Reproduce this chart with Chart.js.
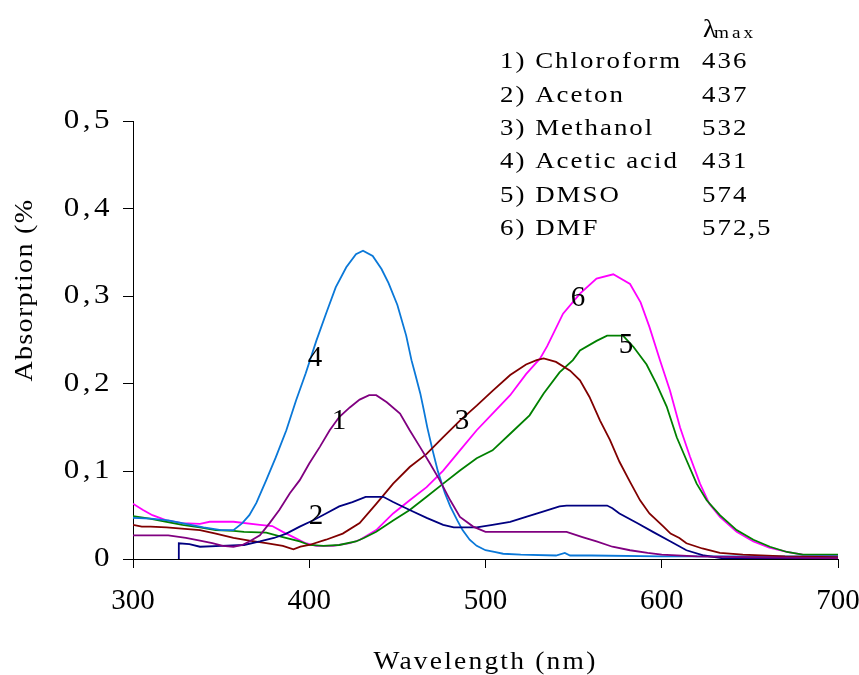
<!DOCTYPE html>
<html>
<head>
<meta charset="utf-8">
<script src="https://cdn.jsdelivr.net/npm/chart.js@4.4.1/dist/chart.umd.min.js"></script>
<style>
html,body{margin:0;padding:0;background:#fff;}
#wrap{width:859px;height:675px;position:relative;}
</style>
</head>
<body>
<div id="wrap"><canvas id="c" width="859" height="675"></canvas></div>
<script>
// ---- Data ----
// 1) Chloroform
const wl1 = [300,310,320,330,338,345,351,357,362,366,372,377.5,383,389,394.6,400,406,411.6,417,423,428.6,434,438,444,451.5,457,462.8,468.5,474,480,485.5,493,500,546,555,563,572,582,592,600,620,650,700];
const abs1 = [0.027,0.027,0.027,0.024,0.021,0.018,0.015,0.014,0.016,0.020,0.027,0.041,0.056,0.075,0.090,0.109,0.128,0.147,0.162,0.173,0.182,0.187,0.187,0.179,0.166,0.147,0.128,0.109,0.090,0.067,0.048,0.037,0.031,0.031,0.025,0.020,0.014,0.010,0.007,0.005,0.003,0.002,0.001];
// 2) Aceton
const wl2 = [326,326,332,338,350,363,372,380,387,394.6,402,409.5,417,424.5,432,442,447.6,457,466.6,476,482,495,504,514,523,532.6,542,546,569,572,576,586,595,605,614,624,634,650,700];
const abs2 = [0,0.018,0.017,0.014,0.015,0.016,0.020,0.024,0.029,0.037,0.044,0.052,0.060,0.065,0.071,0.071,0.065,0.056,0.047,0.039,0.036,0.036,0.039,0.0425,0.048,0.054,0.060,0.061,0.061,0.058,0.052,0.041,0.031,0.020,0.010,0.004,0.001,0,0];
// 3) Methanol
const wl3 = [300,305,310,319,338,347,357,366,375.6,385,391,395,400,409.5,419,428.6,438,447.6,457,466.6,476,485.5,495,504,514,523,529,533,540,548,553.6,559,565,570.6,576,582,587.7,593,601,605,610,614,623,633,646,670,700];
const abs3 = [0.039,0.037,0.037,0.036,0.033,0.029,0.024,0.021,0.018,0.015,0.011,0.014,0.016,0.022,0.029,0.041,0.063,0.086,0.105,0.120,0.139,0.158,0.175,0.192,0.210,0.222,0.227,0.229,0.225,0.215,0.204,0.185,0.158,0.136,0.111,0.088,0.067,0.052,0.037,0.029,0.024,0.018,0.012,0.007,0.005,0.003,0.002];
// 4) Acetic acid
const wl4 = [300,310,320,330,340,350,357,362,366,370,375.6,381,387,392.5,398,404,409.5,415,421,426.5,430.5,436,441,445,450,455,458,460,463,465,467,470,473,477,480,484,487,491,495,500,505,510,520,540,545,548,560,600,650,700];
const abs4 = [0.047,0.046,0.044,0.040,0.036,0.033,0.033,0.041,0.050,0.064,0.090,0.116,0.147,0.181,0.212,0.249,0.280,0.310,0.333,0.348,0.352,0.346,0.331,0.315,0.290,0.255,0.227,0.212,0.189,0.170,0.150,0.124,0.100,0.075,0.060,0.044,0.033,0.022,0.015,0.010,0.008,0.006,0.005,0.004,0.007,0.004,0.004,0.003,0.003,0.003];
// 5) DMSO
const wl5 = [300,309.5,319,328,338,347,357,363,375.6,385,394.6,400,408,417,426.5,431,438,447.6,457,466.6,476,485.5,495,504,514,525,533,542,549.6,553.6,563,569,578,584,591.4,597,602.8,608.5,614,619.8,625.5,633,642.5,652,661.4,671,680,700];
const abs5 = [0.049,0.046,0.0425,0.039,0.036,0.033,0.032,0.031,0.030,0.025,0.020,0.016,0.015,0.016,0.020,0.024,0.031,0.044,0.056,0.071,0.086,0.101,0.115,0.124,0.143,0.164,0.189,0.213,0.227,0.238,0.249,0.255,0.255,0.242,0.222,0.200,0.174,0.139,0.113,0.086,0.067,0.050,0.033,0.022,0.014,0.008,0.005,0.005];
// 6) DMF
const wl6 = [300,305.7,311,319,328,338,343.5,357,372,379,385,391,398,404,413.5,423,428.8,438,447.6,457,466.6,476,485.5,495,504,514,523,531,535,544,553.6,563,572.5,582,588,593,599,604.7,610.4,616,621.7,627,633,642.5,652,661,671,680,700];
const abs6 = [0.063,0.056,0.050,0.044,0.041,0.040,0.0425,0.0425,0.039,0.0376,0.031,0.025,0.018,0.015,0.015,0.018,0.022,0.033,0.052,0.067,0.082,0.101,0.124,0.147,0.166,0.187,0.211,0.229,0.243,0.280,0.303,0.320,0.325,0.314,0.293,0.265,0.227,0.192,0.150,0.117,0.086,0.063,0.048,0.031,0.020,0.013,0.008,0.005,0.004];

const solventNames = ['1) Chloroform','2) Aceton','3) Methanol','4) Acetic acid','5) DMSO','6) DMF'];
const lambdaMax = ['436','437','532','431','574','572,5'];
const curveLabels = ['1','2','3','4','5','6'];
const curveLabelWl = [416.9,403.8,486.7,403.3,579.7,552.5];
const curveLabelAbs = [0.157,0.049,0.157,0.229,0.244,0.298];
const xTickValues = [300,400,500,600,700];
const yTickValues = [0,0.1,0.2,0.3,0.4,0.5];
const xTitle = 'Wavelength (nm)';
const yTitle = 'Absorption (%';

const wls = [wl1,wl2,wl3,wl4,wl5,wl6];
const absList = [abs1,abs2,abs3,abs4,abs5,abs6];
const colors = ['#800080','#000080','#800000','#0A78D8','#008000','#FF00FF'];

const FONT = "'Liberation Serif','Times New Roman',serif";
// per font size: horizontal stretch and letter spacing (the reference text is wide and spaced)
const textStyleBySize = {
  16:{sx:1.2, sp:2.5},
  24:{sx:1.12, sp:1.8},
  25:{sx:1.1, sp:2},
  26:{sx:1.08, sp:1.2},
  27:{sx:1.15, sp:3},
  29:{sx:1, sp:0}
};

const stretchPlugin = {
  id:'stretch',
  beforeInit(chart){
    const ctx = chart.ctx;
    const orig = ctx.fillText;
    ctx.fillText = function(t,x,y,m){
      const mm = /(\d+(?:\.\d+)?)px/.exec(this.font);
      const sz = mm ? Math.round(parseFloat(mm[1])) : 0;
      const st = textStyleBySize[sz] || {sx:1, sp:0};
      this.save();
      try { this.letterSpacing = st.sp + 'px'; } catch(e){}
      this.translate(x,y);
      this.scale(st.sx,1);
      if (m === undefined) orig.call(this,t,0,0); else orig.call(this,t,0,0,m/st.sx);
      this.restore();
    };
  }
};

const textPlugin = {
  id:'texts',
  afterDraw(chart){
    const ctx = chart.ctx;
    const xs = chart.scales.x, ys = chart.scales.y;
    ctx.save();
    ctx.fillStyle = '#000';
    // curve numbers
    ctx.font = '29px ' + FONT;
    ctx.textAlign = 'center';
    ctx.textBaseline = 'middle';
    curveLabels.forEach((t,i)=>{
      ctx.fillText(t, xs.getPixelForValue(curveLabelWl[i]), ys.getPixelForValue(curveLabelAbs[i]));
    });
    // lambda max table
    ctx.textAlign = 'left';
    ctx.textBaseline = 'alphabetic';
    ctx.font = '25px ' + FONT;
    ctx.fillText('\u03BB', 703, 37);
    ctx.font = '16px ' + FONT;
    ctx.fillText('max', 714, 38);
    ctx.font = '24px ' + FONT;
    solventNames.forEach((n,i)=>{
      const y = 68.3 + i*33.35;
      ctx.fillText(n, 500, y);
      ctx.fillText(lambdaMax[i], 702, y);
    });
    ctx.restore();
  }
};

const datasets = wls.map((w,i)=>({
  label: solventNames[i],
  data: w.map((x,j)=>({x:x, y:absList[i][j]})),
  borderColor: colors[i],
  backgroundColor: colors[i],
  borderWidth: 1.8,
  pointRadius: 0,
  tension: 0,
  fill: false
}));

new Chart(document.getElementById('c'), {
  type:'line',
  data:{datasets},
  plugins:[stretchPlugin, textPlugin],
  options:{
    responsive:false,
    animation:false,
    devicePixelRatio:1,
    layout:{padding:{left:0,right:21,top:121,bottom:0}},
    plugins:{legend:{display:false}, tooltip:{enabled:false}},
    scales:{
      x:{
        type:'linear', min:300, max:700,
        afterBuildTicks(s){ s.ticks = xTickValues.map(v=>({value:v})); },
        afterFit(s){ s.height = 116; s.paddingLeft = 0; s.paddingRight = 0; },
        ticks:{ color:'#000', font:{family:FONT, size:29}, padding:16, maxRotation:0, autoSkip:false,
          callback:(v)=>String(v) },
        grid:{ drawOnChartArea:false, drawTicks:true, tickLength:9, color:'#000', lineWidth:1 },
        border:{ display:true, color:'#000', width:1 },
        title:{ display:true, text:xTitle, color:'#000', font:{family:FONT, size:25, lineHeight:1}, padding:{top:0,bottom:0} }
      },
      y:{
        type:'linear', min:0, max:0.5,
        afterBuildTicks(s){ s.ticks = yTickValues.map(v=>({value:v})); },
        afterFit(s){ s.width = 133; s.paddingTop = 0; s.paddingBottom = 0; },
        ticks:{ color:'#000', font:{family:FONT, size:27}, padding:10, autoSkip:false,
          callback:(v)=> v === 0 ? '0' : v.toFixed(1).replace('.', ',') },
        grid:{ drawOnChartArea:false, drawTicks:true, tickLength:10, color:'#000', lineWidth:1 },
        border:{ display:true, color:'#000', width:1 },
        title:{ display:true, text:'            ' + yTitle, color:'#000', font:{family:FONT, size:26, lineHeight:1}, padding:{top:12,bottom:0} }
      }
    }
  }
});
</script>
</body>
</html>
